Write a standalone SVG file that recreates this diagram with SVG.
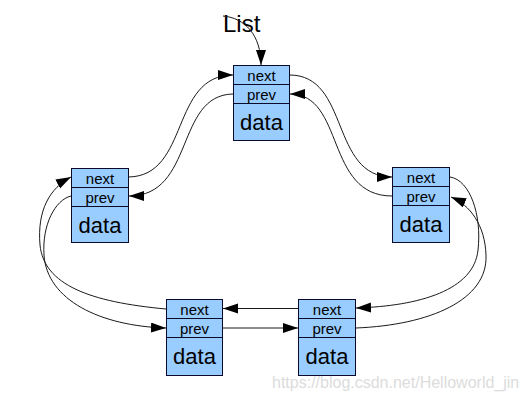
<svg xmlns="http://www.w3.org/2000/svg" width="526" height="404" viewBox="0 0 526 404">
<defs>
<marker id="ah" markerUnits="userSpaceOnUse" markerWidth="16" markerHeight="11" refX="15" refY="5" orient="auto">
<path d="M0,0 L15,5 L0,10 z" fill="#000"/>
</marker>
<style>
.box{fill:#99ccff;stroke:#0a0a2a;stroke-width:1}
.t{font-family:"Liberation Sans",Arial,sans-serif;fill:#000;text-anchor:middle}
.s{font-size:15px}
.d{font-size:22px}
.c{fill:none;stroke:#1a1a1a;stroke-width:1}
</style>
</defs>
<rect width="526" height="404" fill="#fff"/>
<text x="223" y="32" font-family="'Liberation Sans',Arial,sans-serif" font-size="24" fill="#000">List</text>
<g id="connectors">
<path class="c" d="M223,16 C245,18 261,35 261,65" marker-end="url(#ah)"/>
<path class="c" d="M128.5,177 C190,176 170,75 233,75" marker-end="url(#ah)"/>
<path class="c" d="M233,94 C175,95 195,196 129,196" marker-end="url(#ah)"/>
<path class="c" d="M289.5,75 C350,75 330,177 392,177" marker-end="url(#ah)"/>
<path class="c" d="M392,196 C325,196 345,94 290,94" marker-end="url(#ah)"/>
<path class="c" d="M166,309 C90,302 44,285 40,245 C37,210 50,188 71,177" marker-end="url(#ah)"/>
<path class="c" d="M71,196 C55,200 42,225 44,255 C47,300 100,326 166,328" marker-end="url(#ah)"/>
<path class="c" d="M450,177 C470,180 482,215 478,250 C474,290 420,306 356,308" marker-end="url(#ah)"/>
<path class="c" d="M356,328 C430,325 488,300 486,255 C485,225 470,205 451,197" marker-end="url(#ah)"/>
<path class="c" d="M298,308.5 L223,308.5" marker-end="url(#ah)"/>
<path class="c" d="M222.5,328 L298,328" marker-end="url(#ah)"/>
</g>
<g id="node-top" transform="translate(233.5,65.5)">
<rect class="box" width="56" height="75"/><path class="box" d="M0,19 H56 M0,38 H56"/>
<text class="t s" x="28" y="15">next</text><text class="t s" x="28" y="34">prev</text><text class="t d" x="28" y="64">data</text>
</g>
<g id="node-left" transform="translate(71.5,168.5)">
<rect class="box" width="57" height="74"/><path class="box" d="M0,19 H57 M0,38 H57"/>
<text class="t s" x="28.5" y="15">next</text><text class="t s" x="28.5" y="34">prev</text><text class="t d" x="28.5" y="64">data</text>
</g>
<g id="node-right" transform="translate(392.5,167.5)">
<rect class="box" width="57" height="75"/><path class="box" d="M0,19 H57 M0,38 H57"/>
<text class="t s" x="28.5" y="15">next</text><text class="t s" x="28.5" y="34">prev</text><text class="t d" x="28.5" y="64">data</text>
</g>
<g id="node-bottom-left" transform="translate(166.5,299.5)">
<rect class="box" width="56" height="76"/><path class="box" d="M0,19 H56 M0,38 H56"/>
<text class="t s" x="28" y="15">next</text><text class="t s" x="28" y="34">prev</text><text class="t d" x="28" y="64">data</text>
</g>
<g id="node-bottom-right" transform="translate(298.5,299.5)">
<rect class="box" width="57" height="76"/><path class="box" d="M0,19 H57 M0,38 H57"/>
<text class="t s" x="28.5" y="15">next</text><text class="t s" x="28.5" y="34">prev</text><text class="t d" x="28.5" y="64">data</text>
</g>
<text x="272" y="388" font-family="'Liberation Sans',Arial,sans-serif" font-size="16" fill="#dcdcdc">https://blog.csdn.net/Helloworld_jin</text>
</svg>
